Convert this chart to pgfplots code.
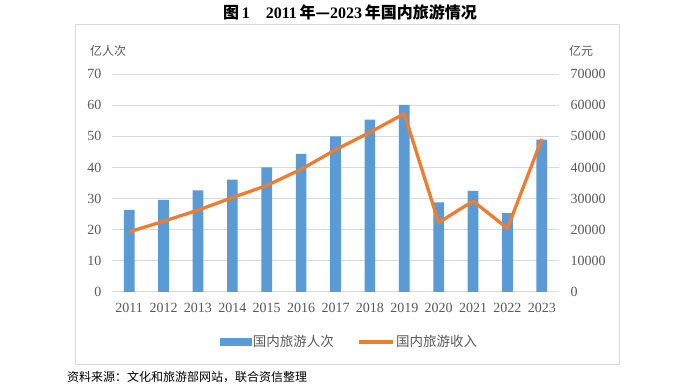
\documentclass[border=0pt]{standalone}
\usepackage{fontspec}
\setmainfont{Liberation Serif}
\newfontfamily\cjk{Noto Sans CJK SC}
\usepackage{pgfplots}
\pgfplotsset{compat=1.18}
\definecolor{barblue}{HTML}{5B9BD5}
\definecolor{lineorange}{HTML}{ED7D31}
\definecolor{gridgray}{HTML}{D9D9D9}
\definecolor{txtgray}{HTML}{595959}
\begin{document}
\begin{tikzpicture}[x=1pt,y=1pt]
\useasboundingbox (0,0) rectangle (700,385);
\fill[white] (0,0) rectangle (700,385);
\draw[gridgray, line width=1pt] (75,21) rectangle (619,360);
\node[font=\cjk\bfseries\fontsize{16}{18}\selectfont] at (350,373) {图\,{\rmfamily\bfseries 1}\quad{\rmfamily\bfseries 2011}\,年—{\rmfamily\bfseries 2023}\,年国内旅游情况};
\node[font=\cjk\fontsize{12}{14}\selectfont, text=txtgray] at (108,334) {亿人次};
\node[font=\cjk\fontsize{12}{14}\selectfont, text=txtgray] at (581,334) {亿元};
\node[anchor=west, font=\cjk\fontsize{12}{14}\selectfont, inner sep=0pt] at (67,8) {资料来源：文化和旅游部网站，联合资信整理};
\begin{axis}[
  at={(112pt,93pt)}, anchor=south west, scale only axis,
  width=447pt, height=218pt,
  xmin=-0.5, xmax=12.5, ymin=0, ymax=70,
  ytick={0,10,20,30,40,50,60,70},
  xtick={0,1,2,3,4,5,6,7,8,9,10,11,12},
  xticklabels={2011,2012,2013,2014,2015,2016,2017,2018,2019,2020,2021,2022,2023},
  axis lines*=left,
  y axis line style={draw=none},
  x axis line style={gridgray, line width=1pt, -},
  ymajorgrids, grid style={gridgray, line width=1pt},
  major tick length=0pt,
  tick label style={font=\fontsize{14}{16}\selectfont, text=txtgray},
  yticklabel style={xshift=-7pt},
  xticklabel style={yshift=-8pt},
  /pgf/number format/assume math mode=true,
  ybar, bar width=10.7pt,
]
\addplot[fill=barblue, draw=none] coordinates {
(0,26.41) (1,29.57) (2,32.62) (3,36.11) (4,40.00) (5,44.35) (6,50.01)
(7,55.39) (8,60.06) (9,28.79) (10,32.46) (11,25.30) (12,48.91)};
\end{axis}
\begin{axis}[
  at={(112pt,93pt)}, anchor=south west, scale only axis,
  width=447pt, height=218pt,
  xmin=-0.5, xmax=12.5, ymin=0, ymax=70000,
  ytick={0,10000,20000,30000,40000,50000,60000,70000},
  axis y line*=right, axis x line=none,
  y axis line style={draw=none},
  major tick length=0pt,
  scaled y ticks=false,
  yticklabel style={/pgf/number format/.cd, fixed, 1000 sep={}, /tikz/.cd, xshift=8pt},
  tick label style={font=\fontsize{14}{16}\selectfont, text=txtgray},
  /pgf/number format/assume math mode=true,
  legend style={at={(0.531,-0.229)}, anchor=center, draw=none, fill=none,
    legend columns=2, font=\cjk\fontsize{13.5}{15}\selectfont, text=txtgray,
    /tikz/every even column/.append style={column sep=21pt}},
]
\addlegendimage{legend image code/.code={\fill[barblue] (0pt,-3.5pt) rectangle (31pt,3.5pt);}}
\addlegendentry{国内旅游人次}
\addplot[lineorange, line width=3.3pt, line join=round,
  legend image code/.code={\draw[lineorange, line width=3.3pt] (0pt,0pt)--(34pt,0pt);}] coordinates {
(0,19305) (1,22706) (2,26276) (3,30312) (4,34195) (5,39390) (6,45661)
(7,51278) (8,57251) (9,22286) (10,29191) (11,20444) (12,49133)};
\addlegendentry{国内旅游收入}
\end{axis}
\end{tikzpicture}
\end{document}
